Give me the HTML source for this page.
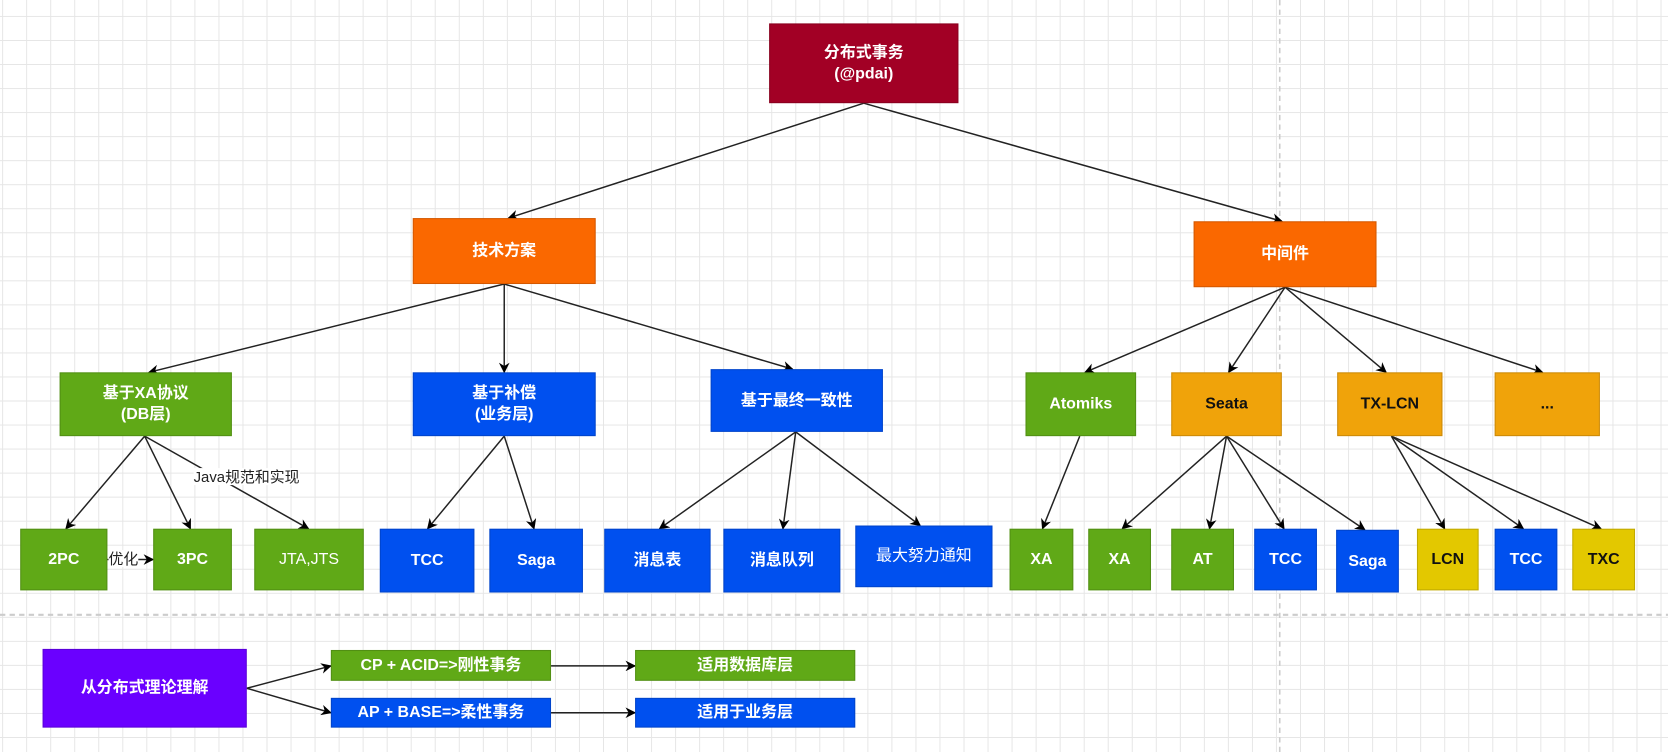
<!DOCTYPE html>
<html><head><meta charset="utf-8"><style>
html,body{margin:0;padding:0;width:1668px;height:752px;overflow:hidden;background:#fff}
#w{position:absolute;left:0;top:0;width:1568px;height:707px;transform:scale(1.06378);transform-origin:0 0;
background-image:linear-gradient(#e6e6e6 1px,transparent 1px),linear-gradient(90deg,#e6e6e6 1px,transparent 1px);
background-size:22.6px 22.6px;background-position:2px 15px;}
.b{position:absolute;display:flex;align-items:center;justify-content:center;text-align:center;color:#fff;font-family:"Liberation Sans","Noto Sans CJK SC",sans-serif;font-weight:bold;font-size:15px;line-height:20px;box-sizing:border-box;border:1px solid rgba(0,0,0,.15)}
.g{background:#60a917}.u{background:#0050ef}.o{background:#fa6800}.y{background:#f0a30a}.ye{background:#e3c800;color:#fff}.n{font-weight:normal}
.l{position:absolute;font-family:"Liberation Sans","Noto Sans CJK SC",sans-serif;font-size:14px;color:#222;background:#fff;line-height:16px}
svg{position:absolute;left:0;top:0}
</style></head><body><div id="w">
<svg width="1568" height="707">
<defs><marker id="a" markerWidth="10" markerHeight="10" refX="9" refY="5" orient="auto" markerUnits="userSpaceOnUse"><path d="M0,0 L10,5 L0,10 L3,5z" fill="#000"/></marker></defs>
<line x1="0" y1="578" x2="1568" y2="578" stroke="#ccc" stroke-width="2" stroke-dasharray="5,4"/>
<line x1="1203" y1="0" x2="1203" y2="707" stroke="#ccc" stroke-width="1.5" stroke-dasharray="5,4"/>
<g stroke="#222" stroke-width="1.4" marker-end="url(#a)" fill="none">
<line x1="812" y1="97" x2="478" y2="205"/><line x1="812" y1="97" x2="1205" y2="208"/>
<line x1="474" y1="267" x2="140" y2="350"/><line x1="474" y1="267" x2="474" y2="350"/><line x1="474" y1="267" x2="745" y2="347"/>
<line x1="1208" y1="270" x2="1020" y2="350"/><line x1="1208" y1="270" x2="1155" y2="350"/><line x1="1208" y1="270" x2="1303" y2="350"/><line x1="1208" y1="270" x2="1450" y2="350"/>
<line x1="136" y1="410" x2="62" y2="497"/><line x1="136" y1="410" x2="179" y2="497"/><line x1="136" y1="410" x2="290" y2="497"/>
<line x1="101" y1="526" x2="144" y2="526"/>
<line x1="474" y1="410" x2="402" y2="497"/><line x1="474" y1="410" x2="502" y2="497"/>
<line x1="748" y1="406" x2="620" y2="497"/><line x1="748" y1="406" x2="736" y2="497"/><line x1="748" y1="406" x2="865" y2="494"/>
<line x1="1015" y1="410" x2="980" y2="497"/>
<line x1="1153" y1="410" x2="1055" y2="497"/><line x1="1153" y1="410" x2="1137" y2="497"/><line x1="1153" y1="410" x2="1207" y2="497"/><line x1="1153" y1="410" x2="1283" y2="498"/>
<line x1="1308" y1="410" x2="1358" y2="497"/><line x1="1308" y1="410" x2="1432" y2="497"/><line x1="1308" y1="410" x2="1505" y2="497"/>
<line x1="232" y1="647" x2="311" y2="626"/><line x1="232" y1="647" x2="311" y2="670"/>
<line x1="518" y1="626" x2="597" y2="626"/><line x1="518" y1="670" x2="597" y2="670"/>
</g></svg>
<div class="l" style="left:182px;top:440px">Java规范和实现</div>
<div class="l" style="left:102px;top:517px">优化</div>
<div class="b" style="left:723px;top:22px;width:178px;height:75px;background:#a20025">分布式事务<br>(@pdai)</div>
<div class="b o" style="left:388px;top:205px;width:172px;height:62px">技术方案</div>
<div class="b o" style="left:1122px;top:208px;width:172px;height:62px">中间件</div>
<div class="b g" style="left:56px;top:350px;width:162px;height:60px">基于XA协议<br>(DB层)</div>
<div class="b u" style="left:388px;top:350px;width:172px;height:60px">基于补偿<br>(业务层)</div>
<div class="b u" style="left:668px;top:347px;width:162px;height:59px">基于最终一致性</div>
<div class="b g" style="left:964px;top:350px;width:104px;height:60px">Atomiks</div>
<div class="b y" style="left:1101px;top:350px;width:104px;height:60px;color:#111">Seata</div>
<div class="b y" style="left:1257px;top:350px;width:99px;height:60px;color:#111">TX-LCN</div>
<div class="b y" style="left:1405px;top:350px;width:99px;height:60px;color:#111">...</div>
<div class="b g" style="left:19px;top:497px;width:82px;height:58px">2PC</div>
<div class="b g" style="left:144px;top:497px;width:74px;height:58px">3PC</div>
<div class="b g n" style="left:239px;top:497px;width:103px;height:58px">JTA,JTS</div>
<div class="b u" style="left:357px;top:497px;width:89px;height:60px">TCC</div>
<div class="b u" style="left:460px;top:497px;width:88px;height:60px">Saga</div>
<div class="b u" style="left:568px;top:497px;width:100px;height:60px">消息表</div>
<div class="b u" style="left:680px;top:497px;width:110px;height:60px">消息队列</div>
<div class="b u n" style="left:804px;top:494px;width:129px;height:58px">最大努力通知</div>
<div class="b g" style="left:949px;top:497px;width:60px;height:58px">XA</div>
<div class="b g" style="left:1023px;top:497px;width:59px;height:58px">XA</div>
<div class="b g" style="left:1101px;top:497px;width:59px;height:58px">AT</div>
<div class="b u" style="left:1179px;top:497px;width:59px;height:58px">TCC</div>
<div class="b u" style="left:1256px;top:498px;width:59px;height:59px">Saga</div>
<div class="b ye" style="left:1332px;top:497px;width:58px;height:58px;color:#111">LCN</div>
<div class="b u" style="left:1405px;top:497px;width:59px;height:58px">TCC</div>
<div class="b ye" style="left:1478px;top:497px;width:59px;height:58px;color:#111">TXC</div>
<div class="b" style="left:40px;top:610px;width:192px;height:74px;background:#6a00ff">从分布式理论理解</div>
<div class="b g" style="left:311px;top:611px;width:207px;height:29px">CP + ACID=&gt;刚性事务</div>
<div class="b u" style="left:311px;top:656px;width:207px;height:28px">AP + BASE=&gt;柔性事务</div>
<div class="b g" style="left:597px;top:611px;width:207px;height:29px">适用数据库层</div>
<div class="b u" style="left:597px;top:656px;width:207px;height:28px">适用于业务层</div>
</div></body></html>
